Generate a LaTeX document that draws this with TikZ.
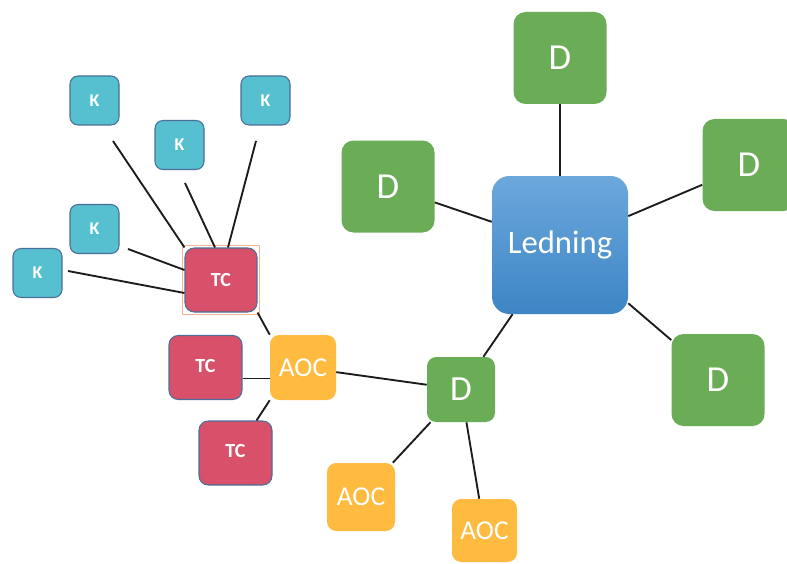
\documentclass[tikz,border=0pt]{standalone}
\usepackage{fontspec}
\setmainfont{Carlito}
\usetikzlibrary{calc}
\definecolor{dgreen}{HTML}{6AAD56}
\definecolor{leadtop}{HTML}{6CA8DC}
\definecolor{leadbot}{HTML}{3D85C5}
\definecolor{aocfill}{HTML}{FEBB40}
\definecolor{tcfill}{HTML}{D9506A}
\definecolor{kfill}{HTML}{56BFD0}
\definecolor{edgeblue}{HTML}{4A6F98}
\definecolor{selbox}{HTML}{F6B596}
\definecolor{wire}{HTML}{1C1C1C}
\begin{document}
\begin{tikzpicture}[x=0.75pt,y=-0.75pt,
  box/.style={text=white, inner sep=0pt, align=center},
  dbox/.style={box, fill=dgreen, minimum width=69.75pt, minimum height=69pt,
    rounded corners=9pt, font=\fontsize{27.5}{27.5}\selectfont},
  dsmall/.style={box, fill=dgreen, minimum width=51pt, minimum height=48.75pt,
    rounded corners=7pt, font=\fontsize{26.5}{26.5}\selectfont},
  leadbox/.style={box, top color=leadtop, bottom color=leadbot,
    minimum width=102pt, minimum height=103.5pt, rounded corners=13pt,
    font=\fontsize{24.5}{24.5}\selectfont},
  aocbox/.style={box, fill=aocfill, minimum width=49.5pt, minimum height=48.75pt,
    rounded corners=7pt, font=\fontsize{20.5}{20.5}\selectfont},
  tcbox/.style={box, fill=tcfill, draw=edgeblue, line width=0.8pt,
    minimum width=54pt, minimum height=48pt, rounded corners=7pt,
    font=\bfseries\fontsize{15}{15}\selectfont},
  kbox/.style={box, fill=kfill, draw=edgeblue, line width=0.8pt,
    minimum width=36.75pt, minimum height=36.75pt, rounded corners=6pt,
    font=\bfseries\fontsize{13.5}{13.5}\selectfont},
  link/.style={draw=wire, line width=1.4pt}
]
\useasboundingbox[fill=white] (0,0) rectangle (787,563);

% central hub and its distribution nodes
\node[leadbox] (lead) at (560,245) {Ledning};
\node[dbox] (dtop)   at (560,58)    {D};
\node[dbox] (dright) at (749,165)   {D};
\node[dbox] (dleft)  at (388,186.5) {D};
\node[dbox] (dlow)   at (718,380)   {D};
\node[dsmall] (dmid) at (461,389.5) {D};

% AOC nodes
\node[aocbox] (aoc1) at (303,367.5) {AOC};
\node[aocbox, minimum width=51pt, minimum height=51pt] (aoc2) at (361,497) {AOC};
\node[aocbox, minimum width=48.75pt, minimum height=47.25pt] (aoc3) at (484.5,530.5) {AOC};

% TC nodes
\node[tcbox] (tc1) at (221,280) {TC};
\node[tcbox, minimum width=54.75pt] (tc2) at (205.5,367.5) {\raisebox{3pt}{TC}};
\node[tcbox, minimum width=54.75pt] (tc3) at (235.5,453) {\raisebox{3pt}{TC}};
\draw[selbox, line width=0.7pt]
  ([xshift=-1.5pt,yshift=1.5pt]tc1.north west) rectangle
  ([xshift=1.5pt,yshift=-1.5pt]tc1.south east);

% K nodes
\node[kbox] (k1) at (94.5,100.5)  {K};
\node[kbox] (k2) at (265.5,100.5) {K};
\node[kbox] (k3) at (179.5,145)   {K};
\node[kbox] (k4) at (94.5,229)    {K};
\node[kbox] (k5) at (37.5,273)    {K};

% loose ends of the K wires
\coordinate (k1e) at ($(k1)+(18.5,40.5)$);
\coordinate (k2e) at ($(k2)+(-9.5,40.5)$);
\coordinate (k3e) at ($(k3)+(5.5,38)$);
\coordinate (k4e) at ($(k4)+(33.5,20)$);
\coordinate (k5e) at ($(k5)+(30.5,-2)$);

% hub links
\draw[link] (lead) -- (dtop);
\draw[link] (lead) -- (dright);
\draw[link] (lead) -- (dleft);
\draw[link] (lead) -- (dlow);
\draw[link] (lead) -- (dmid);

% lower branch
\draw[link] (dmid) -- (aoc1);
\draw[link] (dmid) -- (aoc2);
\draw[link] (dmid) -- (aoc3);
\draw[link] (tc1.south east) -- (aoc1.north west);
\draw[link] ([yshift=-8.25pt]tc2.east) -- ([yshift=-8.25pt]aoc1.west);
\draw[link] ([xshift=-12pt]tc3.north east) -- (aoc1.south west);

% K wires into the upper TC
\draw[link] (k1e) -- (tc1.north west);
\draw[link] (k3e) -- ([xshift=-4.5pt]tc1.north);
\draw[link] (k2e) -- ([xshift=5.25pt]tc1.north);
\draw[link] (k4e) -- ([yshift=7.5pt]tc1.west);
\draw[link] (k5e) -- ([yshift=-9.75pt]tc1.west);
\end{tikzpicture}
\end{document}
